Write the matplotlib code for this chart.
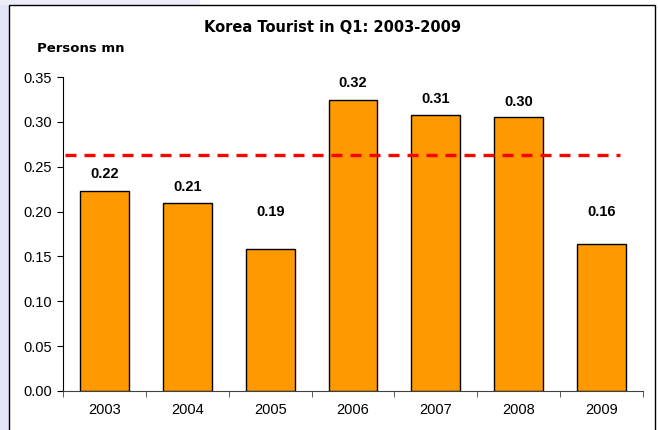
import numpy as np
import matplotlib
matplotlib.use('Agg')
import matplotlib.pyplot as plt
import matplotlib.patches as mpl_patches

plt.rcParams['font.family'] = ['Liberation Sans', 'DejaVu Sans']

# data
years = ['2003', '2004', '2005', '2006', '2007', '2008', '2009']
tourists = [0.223, 0.210, 0.158, 0.324, 0.308, 0.305, 0.164]
value_labels = ['0.22', '0.21', '0.19', '0.32', '0.31', '0.30', '0.16']
average_level = 0.263
yticks = [0.00, 0.05, 0.10, 0.15, 0.20, 0.25, 0.30, 0.35]

# label heights as they sit in the original chart
label_y = [0.242, 0.227, 0.1995, 0.343, 0.3255, 0.322, 0.1995]

iW, iH = 658, 430
fig = plt.figure(figsize=(iW / 100, iH / 100), dpi=100)
fig.patch.set_facecolor('white')

# lavender strip on the left and chart-area frame
fig.add_artist(mpl_patches.Rectangle((0, 0), 9 / iW, 1, transform=fig.transFigure,
                                     facecolor='#E4E4F7', edgecolor='none', zorder=-3))
fig.add_artist(mpl_patches.Rectangle((0, 1 - 5 / iH), 200 / iW, 5 / iH, transform=fig.transFigure,
                                     facecolor='#EDEDF9', edgecolor='none', zorder=-3))
fig.add_artist(mpl_patches.Rectangle((9 / iW, -0.05), (655 - 9) / iW, 1.05 - 5 / iH,
                                     transform=fig.transFigure, facecolor='white',
                                     edgecolor='black', linewidth=1.0, zorder=-2))

left, right = 63 / iW, 643 / iW
bottom, top = (iH - 391) / iH, (iH - 77) / iH
ax = fig.add_axes([left, bottom, right - left, top - bottom])
ax.set_facecolor('none')

x = np.arange(len(years))
ax.bar(x, tourists, width=0.59, color='#FF9900', edgecolor='black', linewidth=1.0, zorder=2)

ax.hlines(average_level, -0.476, 6.22, colors='#FF0000', linestyles=(0, (3.3, 2.4)),
          linewidth=2.4, zorder=3)

for i, s in enumerate(value_labels):
    ax.text(x[i], label_y[i], s, ha='center', va='center', fontsize=10.5, fontweight='bold')

ax.set_xlim(-0.5, len(years) - 0.5)
ax.set_ylim(0, 0.35)
ax.set_yticks(yticks)
ax.set_yticklabels(['%.2f' % v for v in yticks], fontsize=10.5)
ax.set_xticks(x)
ax.set_xticklabels(years, fontsize=10.5)
ax.set_xticks(np.arange(-0.5, len(years)), minor=True)
ax.tick_params(axis='x', which='major', length=0, pad=9)
ax.tick_params(axis='x', which='minor', length=4, direction='out', color='#404040')
ax.tick_params(axis='y', length=4, direction='out', pad=4)

for sp in ['top', 'right']:
    ax.spines[sp].set_visible(False)
ax.spines['left'].set_color('black')
ax.spines['bottom'].set_color('#404040')

fig.text(332 / iW, 1 - 27 / iH, 'Korea Tourist in Q1: 2003-2009', ha='center', va='center',
         fontsize=10.5, fontweight='bold', family=['DejaVu Sans'])
fig.text(37 / iW, 1 - 48 / iH, 'Persons mn', ha='left', va='center',
         fontsize=9.5, fontweight='bold', family=['DejaVu Sans'])

fig.savefig('out.png', dpi=100)
plt.close('all')
